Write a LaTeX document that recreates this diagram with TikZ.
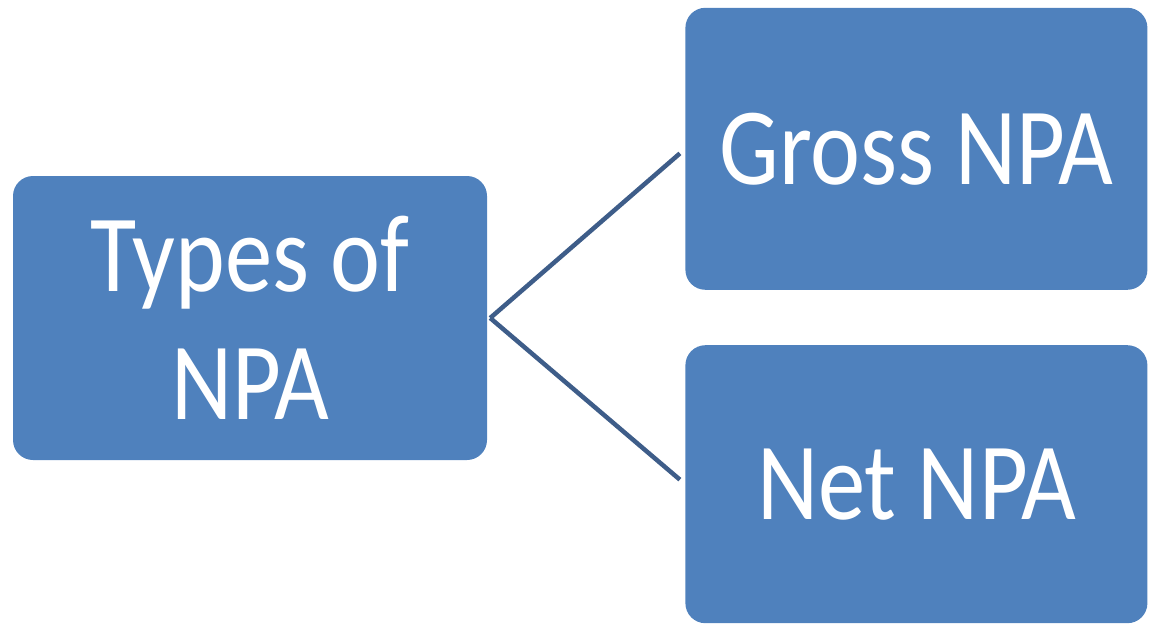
\documentclass[tikz,border=0pt]{standalone}
\usepackage{fontspec}
\setmainfont{Carlito}[FakeStretch=0.86]
\usetikzlibrary{positioning}
\definecolor{boxblue}{HTML}{4F81BD}
\definecolor{linkblue}{HTML}{3E5D89}

\begin{document}
\begin{tikzpicture}[
        x=1pt, y=1pt,
        box/.style={fill=boxblue, text=white, align=center, rounded corners=20pt,
            font=\fontsize{110}{128}\selectfont, inner sep=0pt},
        link/.style={draw=linkblue, line width=4.5pt, shorten >=7pt}
    ]
    \useasboundingbox (0,0) rectangle (1149,-627);

    % Knoten
    \node (types) [box, minimum width=474pt, minimum height=284pt] at (250,-318) {Types of\\NPA};

    \node (gross) [box, minimum width=462pt, minimum height=282pt, above right=28pt and 198pt of types.east] {Gross NPA};

    \node (net) [box, minimum width=462pt, minimum height=278pt, below right=27pt and 198pt of types.east] {Net NPA};

    % Verbindungen
    \draw[link] ([xshift=3pt]types.east) -- (gross.west);
    \draw[link] ([xshift=3pt]types.east) -- (net.west);

\end{tikzpicture}
\end{document}
